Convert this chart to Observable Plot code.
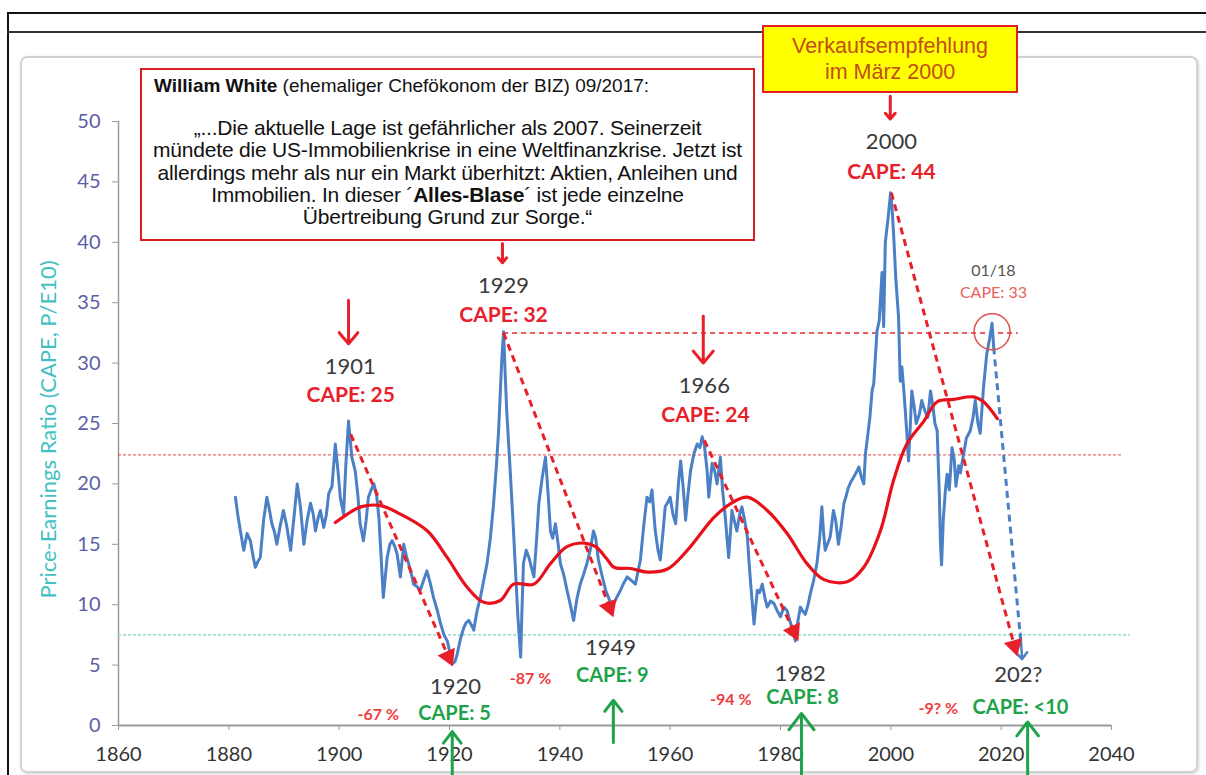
<!DOCTYPE html>
<html>
<head>
<meta charset="utf-8">
<script src="https://cdn.jsdelivr.net/npm/d3@7"></script>
<script src="https://cdn.jsdelivr.net/npm/@observablehq/plot@0.6"></script>
<style>
  body { margin: 0; background: #fff; }
  #wrap { position: relative; width: 1206px; height: 775px; overflow: hidden; font-family: Lato, "Open Sans", sans-serif; }
  .frameL { position: absolute; left: 7px; top: 12px; width: 2px; height: 770px; background: #111; z-index: 5; }
  .frameT { position: absolute; left: 7px; top: 12px; width: 1200px; height: 2px; background: #111; z-index: 5; }
  .frameT2 { position: absolute; left: 7px; top: 31px; width: 1200px; height: 2px; background: #333; z-index: 5; }
  .panel { position: absolute; left: 20px; top: 56px; width: 1174px; height: 713px; border: 2px solid #d2d2d2; border-radius: 7px; box-shadow: 1px 1px 3px rgba(0,0,0,0.18); z-index: 0; }
  #chart { position: absolute; left: 0; top: 0; z-index: 1; }
  .wbox { position: absolute; left: 140px; top: 68px; width: 611px; height: 169px; border: 2.5px solid #d81e1e; background: #fff; z-index: 6; font-family: "Liberation Sans Narrow", "Arial Narrow", "Liberation Sans", sans-serif; color: #111; }
  .wt { position: absolute; left: 12px; top: 5px; font-size: 19px; line-height: 22px; white-space: nowrap; }
  .wq { position: absolute; left: 0; right: 0; top: 47px; text-align: center; font-size: 21px; line-height: 22.3px; white-space: nowrap; letter-spacing: -0.2px; }
  .ybox { position: absolute; left: 762px; top: 25px; width: 252px; height: 58px; border: 2.5px solid #e02020; background: #ffff00; z-index: 7; font-family: "Liberation Sans", Arial, sans-serif; color: #c24e16; font-size: 21.5px; line-height: 26px; text-align: center; padding-top: 6px; box-sizing: content-box; }
</style>
</head>
<body>
<div id="wrap">
  <div class="panel"></div>
  <div id="chart"></div>
  <div class="frameL"></div>
  <div class="frameT"></div>
  <div class="frameT2"></div>
  <div class="wbox">
    <div class="wt"><b>William White</b> (ehemaliger Chefökonom der BIZ) 09/2017:</div>
    <div class="wq">„...Die aktuelle Lage ist gefährlicher als 2007. Seinerzeit<br>mündete die US-Immobilienkrise in eine Weltfinanzkrise. Jetzt ist<br>allerdings mehr als nur ein Markt überhitzt: Aktien, Anleihen und<br>Immobilien. In dieser ´<b>Alles-Blase</b>´ ist jede einzelne<br>Übertreibung Grund zur Sorge.“</div>
  </div>
  <div class="ybox">Verkaufsempfehlung<br>im März 2000</div>
</div>
<script>
// ---------------- DATA ----------------
const capeYears = [
1881.2,1881.6,1882.1,1882.7,1883.3,1883.9,1884.4,1884.8,1885.3,1885.7,1886.3,1886.9,1887.3,1887.8,1888.3,1888.7,1889.3,1889.9,1890.5,1891.2,
1891.8,1892.4,1893.0,1893.6,1894.2,1894.8,1895.3,1895.7,1896.2,1896.6,1897.2,1897.7,1898.1,1898.7,1899.3,1899.8,1900.2,1900.8,1901.2,1901.7,
1902.3,1902.9,1903.4,1903.8,1904.4,1904.9,1905.3,1905.8,1906.3,1906.8,1907.2,1907.6,1908.0,1908.4,1908.7,1909.2,1909.6,1910.1,1910.5,1911.1,
1911.7,1912.2,1912.6,1913.1,1913.5,1914.1,1914.7,1915.3,1915.9,1916.5,1917.1,1917.8,1918.4,1919.0,1919.6,1920.1,1920.5,1921.0,1921.4,1922.0,
1922.6,1923.0,1923.5,1924.0,1924.4,1925.0,1925.6,1926.2,1926.8,1927.4,1928.0,1928.5,1928.9,1929.2,1929.5,1929.8,1930.1,1930.4,1930.7,1931.0,
1931.5,1931.9,1932.4,1932.9,1933.1,1933.4,1933.9,1934.4,1934.9,1935.3,1935.8,1936.2,1936.8,1937.4,1937.9,1938.3,1938.7,1939.2,1939.7,1940.1,
1940.7,1941.3,1941.9,1942.5,1943.1,1943.7,1944.3,1944.9,1945.5,1946.1,1946.5,1947.0,1947.6,1948.3,1948.9,1949.5,1950.2,1951.0,1951.6,1952.2,
1953.0,1953.7,1954.2,1954.6,1955.2,1955.8,1956.3,1956.7,1957.3,1957.8,1958.2,1958.7,1959.1,1959.6,1960.0,1960.5,1961.0,1961.5,1961.9,1962.4,
1962.8,1963.2,1963.7,1964.3,1964.9,1965.4,1965.8,1966.2,1966.7,1967.0,1967.6,1968.1,1968.5,1969.1,1969.5,1970.0,1970.6,1971.2,1971.6,1972.1,
1972.6,1973.0,1973.5,1974.0,1974.3,1974.6,1975.2,1975.8,1976.2,1976.7,1977.2,1977.6,1978.2,1978.8,1979.4,1980.0,1980.6,1981.2,1981.8,1982.3,
1982.7,1983.1,1983.6,1984.0,1984.5,1985.0,1985.4,1986.0,1986.6,1987.1,1987.5,1987.8,1988.1,1988.5,1989.0,1989.6,1990.0,1990.5,1991.0,1991.5,
1991.9,1992.3,1992.8,1993.3,1993.8,1994.2,1994.7,1995.1,1995.4,1995.7,1996.2,1996.6,1996.9,1997.2,1997.5,1997.9,1998.4,1998.7,1999.0,1999.5,
1999.95,2000.2,2000.5,2000.9,2001.4,2001.7,2002.0,2002.4,2002.9,2003.2,2003.5,2003.8,2004.2,2004.6,2005.2,2005.6,2006.2,2006.7,2007.2,2007.6,
2008.0,2008.4,2008.8,2009.0,2009.2,2009.5,2009.9,2010.2,2010.6,2011.1,2011.5,2011.8,2012.3,2012.6,2013.2,2013.7,2014.4,2014.9,2015.3,2015.8,
2016.2,2016.8,2017.4,2017.9,2018.35,2018.65
];
const capeValues = [
18.9,17.5,16.1,14.5,15.9,15.3,14.0,13.1,13.6,13.9,17.0,18.9,18.0,16.7,16.0,15.0,16.5,17.8,16.5,14.5,
17.2,20.0,18.0,15.0,17.0,18.4,17.5,16.1,17.2,17.8,16.4,17.5,19.2,19.8,23.3,21.0,18.9,17.5,21.5,25.2,
22.2,21.1,19.0,16.7,15.3,17.0,18.9,19.5,20.0,19.0,17.2,14.0,10.6,12.5,13.9,15.0,15.3,14.8,14.2,12.3,
15.0,14.0,13.4,12.5,11.7,11.5,11.2,12.0,12.8,11.8,10.6,9.5,8.4,7.5,7.0,6.0,5.1,5.3,5.9,7.2,
8.1,8.5,8.7,8.3,7.9,9.5,10.6,12.0,13.4,15.5,18.4,21.5,24.4,27.5,30.5,32.6,29.0,25.8,23.5,21.1,
17.0,13.4,9.0,5.65,9.0,13.4,14.5,13.9,13.0,12.3,15.5,18.4,20.5,22.2,19.0,16.1,15.5,16.7,15.0,13.4,
12.5,11.2,10.0,8.7,10.5,11.7,12.5,13.4,14.5,16.1,15.5,13.7,12.5,11.2,10.5,9.8,10.5,11.2,11.8,12.3,
12.0,11.7,12.8,13.7,16.5,18.9,18.5,19.5,16.1,14.5,13.7,16.0,18.1,18.5,18.9,17.5,16.7,20.0,21.9,19.5,
17.0,19.0,21.1,22.5,23.3,23.0,23.9,23.2,21.1,18.9,21.7,21.0,20.0,22.2,19.5,17.2,13.9,17.8,17.0,16.1,
17.5,18.1,17.0,15.6,13.5,11.7,8.4,11.2,11.0,11.7,10.5,9.8,10.3,10.1,9.5,9.0,9.8,9.5,8.5,7.8,
7.0,8.5,9.8,9.5,9.2,10.0,10.9,12.0,13.4,15.5,18.1,16.0,14.5,15.0,15.6,17.8,17.0,15.0,16.5,18.4,
19.0,19.7,20.2,20.6,21.0,21.4,20.5,20.0,22.5,23.6,25.5,27.7,28.3,30.5,32.7,33.5,37.5,33.0,40.0,42.0,
44.1,43.0,40.7,37.0,33.8,28.5,29.7,27.5,24.2,21.9,24.5,27.7,26.5,25.0,25.8,26.9,26.0,25.5,27.7,26.5,
25.0,24.4,19.0,15.0,13.3,17.0,19.5,20.8,19.5,23.0,22.0,19.8,21.5,20.9,22.5,23.8,24.4,25.5,26.9,25.0,
24.2,28.0,30.8,32.0,33.3,31.3
];
// smoothed long-term trend (red)
const trendYears  = [1899.3,1901.5,1903.9,1907.5,1911.1,1916.0,1919.6,1923.2,1926.2,1929.2,1931.6,1935.3,1938.3,1941.3,1944.5,1946.5,1948.5,1949.8,1952.8,1955.8,1959.5,1963.1,1967.9,1970.9,1974.0,1977.6,1981.2,1984.8,1987.8,1992.1,1995.1,1998.1,2000.5,2002.9,2006.0,2008.4,2011.4,2015.0,2016.8,2019.3];
const trendValues = [16.8,17.5,18.1,18.2,17.5,16.1,13.9,11.45,10.2,10.35,11.7,11.7,13.4,14.8,15.1,14.8,13.8,13.1,13.0,12.7,12.95,14.5,17.2,18.35,18.9,17.8,15.9,13.4,12.1,11.9,13.1,16.1,20.3,23.3,25.2,26.8,27.0,27.2,26.8,25.4];

// peaks -> troughs (dashed red declines)
const declineStartYear = [1902.1, 1929.8, 1966.2, 2000.1];
const declineStartCape = [24.1, 32.5, 23.6, 44.1];
const declineEndYear   = [1919.8, 1949.0, 1982.4, 2022.4];
const declineEndCape   = [5.7, 9.8, 7.8, 6.6];

// reference levels
const meanLevel = 22.4;
const lowLevel = 7.5;
const level2018 = 32.5;

// labels
const peakYears  = ["1901", "1929", "1966", "2000"];
const peakYearX  = [1902.0, 1929.8, 1966.2, 2000.1];
const peakYearY  = [29.7, 36.4, 28.1, 48.3];
const peakCape   = ["CAPE: 25", "CAPE: 32", "CAPE: 24", "CAPE: 44"];
const peakCapeX  = [1902.1, 1929.8, 1966.4, 2000.1];
const peakCapeY  = [27.3, 34.0, 25.7, 45.8];

const lowYears   = ["1920", "1949", "1982", "202?"];
const lowYearX   = [1921.1, 1949.2, 1983.6, 2023.1];
const lowYearY   = [3.2, 6.4, 4.3, 4.2];
const lowCape    = ["CAPE: 5", "CAPE: 9", "CAPE: 8", "CAPE: <10"];
const lowCapeX   = [1920.9, 1949.5, 1984.0, 2023.5];
const lowCapeY   = [1.0, 4.1, 2.3, 1.5];
const lossText   = ["-67 %", "-87 %", "-94 %", "-9? %"];
const lossX      = [1907.1, 1934.7, 1971.0, 2008.6];
const lossY      = [0.9, 3.9, 2.1, 1.4];

// arrows
const downArrowX  = [1901.7, 1966.0, 1929.6, 1999.9];
const downArrowY1 = [35.2, 33.9, 39.9, 52.1];
const downArrowY2 = [31.6, 30.0, 38.3, 50.2];
const upArrowX  = [1920.5, 1949.7, 1983.8, 2024.8];
const upArrowY1 = [-4.1, -1.4, -4.1, -4.1];
const upArrowY2 = [-0.5, 2.1, 1.0, 0.3];

// ---------------- BUILD ----------------
const W = 1206, H = 775, ML = 118, MR = 95, MT = 121, MB = 50;
const kx = (W - ML - MR) / 180, ky = (H - MT - MB) / 50;

const cape = capeYears.map((x, i) => ({x, y: capeValues[i]}));
const trend = trendYears.map((x, i) => ({x, y: trendValues[i]}));
const declines = declineStartYear.map((x1, i) => {
  const x2 = declineEndYear[i], y1 = declineStartCape[i], y2 = declineEndCape[i];
  const sx = (x2 - x1) * kx, sy = -(y2 - y1) * ky;
  return {x1, y1, x2, y2, rot: Math.atan2(sx, -sy) * 180 / Math.PI};
});
const peakYearLab = peakYears.map((t, i) => ({t, x: peakYearX[i], y: peakYearY[i]}));
const peakCapeLab = peakCape.map((t, i) => ({t, x: peakCapeX[i], y: peakCapeY[i]}));
const lowYearLab = lowYears.map((t, i) => ({t, x: lowYearX[i], y: lowYearY[i]}));
const lowCapeLab = lowCape.map((t, i) => ({t, x: lowCapeX[i], y: lowCapeY[i]}));
const lossLab = lossText.map((t, i) => ({t, x: lossX[i], y: lossY[i]}));
const downArrows = downArrowX.map((x, i) => ({x, y1: downArrowY1[i], y2: downArrowY2[i]}));
const upArrows = upArrowX.map((x, i) => ({x, y1: upArrowY1[i], y2: upArrowY2[i]}));

const RED = "#e8202a", GREEN = "#1fa34a", BLUE = "#4b80c6";

const plot = Plot.plot({
  width: W, height: H,
  marginLeft: ML, marginRight: MR, marginTop: MT, marginBottom: MB,
  x: {domain: [1860, 2040]},
  y: {domain: [0, 50]},
  style: {background: "transparent", fontFamily: "Lato, 'Open Sans', sans-serif"},
  marks: [
    Plot.axisY({ticks: d3.range(0, 51, 5), tickSize: 6, tickPadding: 12, fontSize: 20, color: "#5b5ea6", stroke: "#9a9a9a", label: null}),
    Plot.axisX({ticks: d3.range(1860, 2041, 20), tickFormat: d => String(d), tickSize: 5, tickPadding: 16, fontSize: 20, color: "#333", stroke: "#9a9a9a", label: null}),
    Plot.ruleX([1860], {stroke: "#9a9a9a", strokeWidth: 1.5}),
    Plot.ruleY([0], {stroke: "#9a9a9a", strokeWidth: 2}),
    Plot.text(["Price-Earnings Ratio (CAPE, P/E10)"], {frameAnchor: "left", textAnchor: "middle", rotate: -90, dx: -70, dy: 6, fill: "#43c1c1", fontSize: 22}),
    Plot.ruleY([{y: meanLevel, x1: 1860, x2: 2042.2}], {y: "y", x1: "x1", x2: "x2", stroke: "#e04848", strokeWidth: 1, strokeDasharray: "3,2"}),
    Plot.ruleY([{y: lowLevel, x1: 1860, x2: 2043.4}], {y: "y", x1: "x1", x2: "x2", stroke: "#7fcfc4", strokeWidth: 1.2, strokeDasharray: "3,2"}),
    Plot.ruleY([{y: level2018, x1: 1929.8, x2: 2023.1}], {y: "y", x1: "x1", x2: "x2", stroke: RED, strokeWidth: 1.5, strokeDasharray: "5,4"}),
    Plot.line(cape, {x: "x", y: "y", stroke: BLUE, strokeWidth: 3, strokeLinejoin: "round"}),
    Plot.line(trend, {x: "x", y: "y", stroke: "#e8101a", strokeWidth: 3.2, curve: "catmull-rom"}),
    Plot.link([{x1: 2018.65, y1: 31.3, x2: 2023.5, y2: 7.2}], {x1: "x1", y1: "y1", x2: "x2", y2: "y2", stroke: BLUE, strokeWidth: 3, strokeDasharray: "7,5"}),
    Plot.arrow([{x1: 2023.5, y1: 7.6, x2: 2023.8, y2: 5.5}], {x1: "x1", y1: "y1", x2: "x2", y2: "y2", stroke: BLUE, strokeWidth: 2.5, headLength: 8, headAngle: 80}),
    Plot.link(declines, {x1: "x1", y1: "y1", x2: "x2", y2: "y2", stroke: RED, strokeWidth: 3, strokeDasharray: "7,5"}),
    Plot.dot(declines, {x: "x2", y: "y2", symbol: "triangle", r: 7, fill: RED, stroke: "none", rotate: "rot"}),
    Plot.dot([{x: 2018.35, y: 32.6}], {x: "x", y: "y", r: 18, stroke: "#e05050", strokeWidth: 1.5, fill: "none"}),
    Plot.arrow(downArrows, {x1: "x", x2: "x", y1: "y1", y2: "y2", stroke: RED, strokeWidth: 3, headLength: 12, headAngle: 80}),
    Plot.arrow(upArrows, {x1: "x", x2: "x", y1: "y1", y2: "y2", stroke: GREEN, strokeWidth: 3, headLength: 12, headAngle: 75}),
    Plot.text(peakYearLab, {x: "x", y: "y", text: "t", fill: "#3a3a3a", fontSize: 22}),
    Plot.text(peakCapeLab, {x: "x", y: "y", text: "t", fill: RED, fontSize: 21, fontWeight: "bold"}),
    Plot.text(lowYearLab, {x: "x", y: "y", text: "t", fill: "#3a3a3a", fontSize: 22}),
    Plot.text(lowCapeLab, {x: "x", y: "y", text: "t", fill: GREEN, fontSize: 20, fontWeight: "bold"}),
    Plot.text(lossLab, {x: "x", y: "y", text: "t", fill: "#f03c3c", fontSize: 16, fontWeight: "bold"}),
    Plot.text([{t: "01/18", x: 2018.6, y: 37.6}], {x: "x", y: "y", text: "t", fill: "#555", fontSize: 16}),
    Plot.text([{t: "CAPE: 33", x: 2018.6, y: 35.8}], {x: "x", y: "y", text: "t", fill: "#e86060", fontSize: 16})
  ]
});
document.getElementById("chart").appendChild(plot);
</script>
</body>
</html>
